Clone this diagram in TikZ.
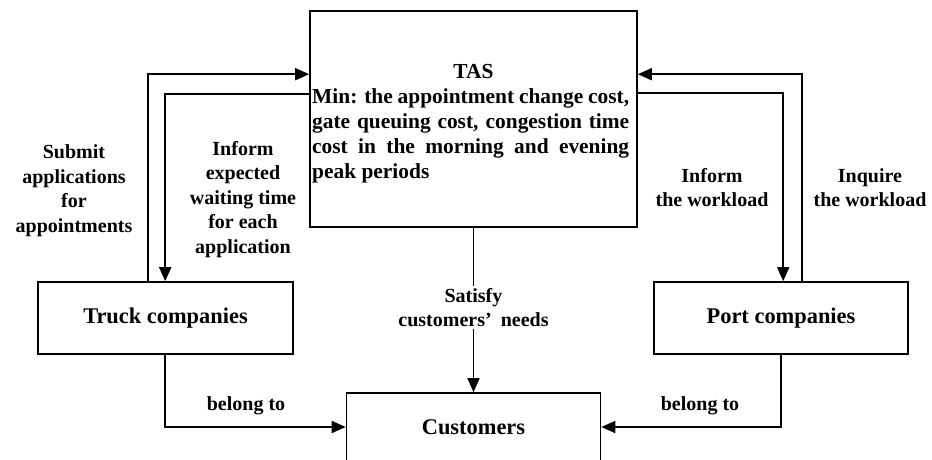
\documentclass[tikz,border=0pt]{standalone}
\usepackage{fontspec}
\setmainfont{Liberation Serif}
\usetikzlibrary{arrows.meta,calc}
\begin{document}
\begin{tikzpicture}[x=1pt,y=-1pt,
  box/.style={draw,line width=1.6pt,inner sep=0pt,font=\bfseries\fontsize{22.4}{26}\selectfont},
  arr/.style={line width=1.6pt,-{Triangle[length=14pt,width=12pt]}},
  lbl/.style={font=\bfseries\fontsize{20}{24.5}\selectfont,align=center,inner sep=0pt},
  tastxt/.style={font=\bfseries\fontsize{21.4}{25}\selectfont,inner sep=0pt}]
\useasboundingbox (0,0) rectangle (932,459);
\clip (0,0) rectangle (932,459);
% boxes
\node[box,minimum width=327pt,minimum height=216pt] (tas) at (473.5,119) {};
\node[box,minimum width=255pt,minimum height=72pt] (truck) at (165.5,318) {Truck companies};
\node[box,minimum width=254pt,minimum height=72pt] (port) at (781,318) {Port companies};
\node[box,minimum width=254pt,minimum height=68pt] (cust) at (473.5,427) {Customers};
% TAS text
\node[tastxt] (tastitle) at (473.5,72) {TAS};
\node[tastxt,anchor=north west,text width=317pt,align=justify] (tasmin) at (312,88)
  {Min: the appointment change cost,\linebreak gate queuing cost, congestion time\linebreak cost in the morning and evening\linebreak peak periods};
% connectors
\draw[arr] ($(truck.north west)+(111,0)$) |- ($(tas.north west)+(0,64)$);
\draw[arr] ($(tas.north west)+(0,84)$) -| ($(truck.north west)+(128,0)$);
\draw[arr] ($(port.north west)+(149,0)$) |- ($(tas.north east)+(0,64)$);
\draw[arr] ($(tas.north east)+(0,83)$) -| ($(port.north west)+(130,0)$);
\node[lbl,inner ysep=2pt] (sat) at (473.5,307.5) {Satisfy\\customers’\hspace{9pt}needs};
\draw[line width=1.6pt] (tas.south) -- (sat.north);
\draw[arr] (sat.south) -- (cust.north);
\draw[arr] ($(truck.south west)+(128,0)$) |- (cust.west);
\draw[arr] ($(port.south west)+(128,0)$) |- (cust.east);
% labels
\node[lbl] (submit) at (74,190.5) {Submit\\applications\\for\\appointments};
\node[lbl] (inform) at (243,199.5) {Inform\\expected\\waiting time\\for each\\application};
\node[lbl] (informw) at (712,187.5) {Inform\\the workload};
\node[lbl] (inquire) at (870,187.5) {Inquire\\the workload};
\node[lbl] (bel1) at (246,406) {belong to};
\node[lbl] (bel2) at (700,406) {belong to};
\end{tikzpicture}
\end{document}
